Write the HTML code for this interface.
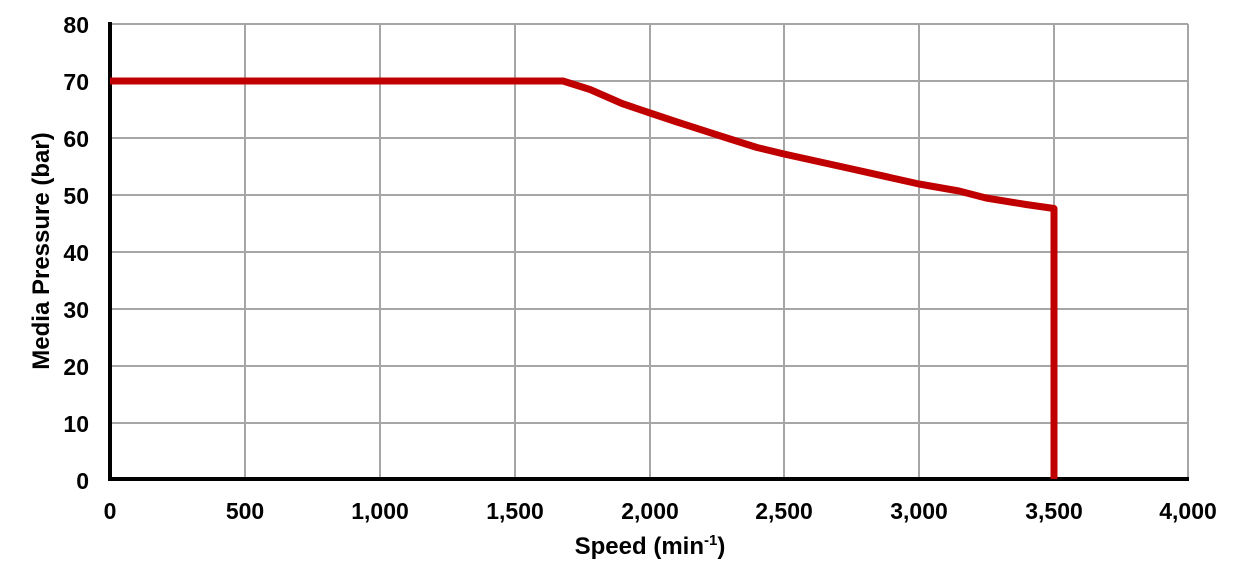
<!DOCTYPE html>
<html><head><meta charset="utf-8"><style>
body{margin:0;background:#fff}
svg{display:block;font-family:"Liberation Sans",Arial,sans-serif;font-weight:bold}
</style></head><body>
<svg width="1244" height="584" viewBox="0 0 1244 584">
<g stroke="#a6a6a6" stroke-width="2" fill="none">
<line x1="110" y1="24" x2="1188" y2="24"/>
<line x1="110" y1="81" x2="1188" y2="81"/>
<line x1="110" y1="138" x2="1188" y2="138"/>
<line x1="110" y1="195" x2="1188" y2="195"/>
<line x1="110" y1="252" x2="1188" y2="252"/>
<line x1="110" y1="309" x2="1188" y2="309"/>
<line x1="110" y1="366" x2="1188" y2="366"/>
<line x1="110" y1="423" x2="1188" y2="423"/>
<line x1="245" y1="24" x2="245" y2="479"/>
<line x1="380" y1="24" x2="380" y2="479"/>
<line x1="515" y1="24" x2="515" y2="479"/>
<line x1="650" y1="24" x2="650" y2="479"/>
<line x1="784" y1="24" x2="784" y2="479"/>
<line x1="919" y1="24" x2="919" y2="479"/>
<line x1="1054" y1="24" x2="1054" y2="479"/>
<line x1="1188" y1="24" x2="1188" y2="479"/>
</g>
<line x1="110" y1="22" x2="110" y2="481" stroke="#000" stroke-width="4"/>
<line x1="108" y1="479" x2="1189" y2="479" stroke="#000" stroke-width="4"/>
<polyline fill="none" stroke="#c00000" stroke-width="7" stroke-linejoin="round"
points="110,81 563,81 590,89.5 622,103.5 650,113 677,122 730,139 757,147.5 784,154 852,169 919,184 959,191 986,198 1026,204.5 1054,208.5 1054,479"/>
<g font-size="23" text-anchor="end" fill="#000">
<text x="89" y="33">80</text><text x="89" y="90">70</text><text x="89" y="147">60</text>
<text x="89" y="204">50</text><text x="89" y="261">40</text><text x="89" y="318">30</text>
<text x="89" y="375">20</text><text x="89" y="432">10</text><text x="89" y="489">0</text>
</g>
<g font-size="23" text-anchor="middle" fill="#000">
<text x="110" y="519">0</text><text x="245" y="519">500</text><text x="380" y="519">1,000</text>
<text x="515" y="519">1,500</text><text x="650" y="519">2,000</text><text x="784" y="519">2,500</text>
<text x="919" y="519">3,000</text><text x="1054" y="519">3,500</text><text x="1188" y="519">4,000</text>
</g>
<text x="650" y="554" font-size="24" text-anchor="middle">Speed (min<tspan font-size="15" dy="-9">-1</tspan><tspan dy="9">)</tspan></text>
<text transform="translate(49,251) rotate(-90)" font-size="24" text-anchor="middle">Media Pressure (bar)</text>
</svg>
</body></html>
